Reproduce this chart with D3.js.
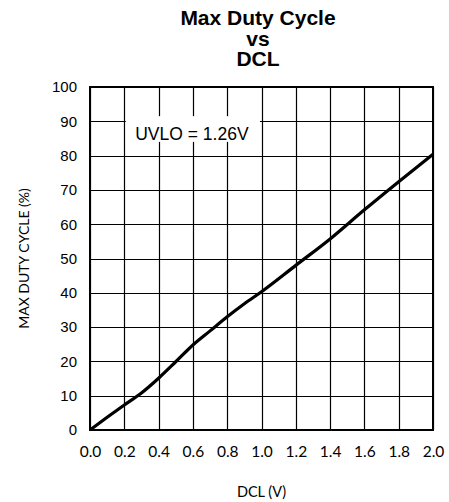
<!DOCTYPE html>
<html><head><meta charset="utf-8">
<script src="https://cdn.jsdelivr.net/npm/d3@7"></script>
<style>body{margin:0;background:#fff}svg{display:block}</style>
</head><body>
<svg id="c" width="449" height="502"></svg>
<script>
const dclV = [0, 0.1, 0.2, 0.3, 0.4, 0.5, 0.6, 0.7, 0.8, 0.9, 1.0, 1.2, 1.4, 1.6, 1.8, 2.0];
const dutyPct = [0, 3.7, 7.3, 10.8, 15.1, 19.9, 24.8, 28.9, 33.0, 36.8, 40.3, 48.0, 55.7, 64.2, 72.4, 80.4];
const xTicks = [0.0, 0.2, 0.4, 0.6, 0.8, 1.0, 1.2, 1.4, 1.6, 1.8, 2.0];
const yTicks = [0, 10, 20, 30, 40, 50, 60, 70, 80, 90, 100];
const titleLines = ["Max Duty Cycle", "vs", "DCL"];
const annotation = "UVLO = 1.26V";

const svg = d3.select("#c");
const L = 90, R = 433, T = 87, B = 430;
const x = d3.scaleLinear().domain([0, 2]).range([L, R]);
const y = d3.scaleLinear().domain([0, 100]).range([B, T]);

// grid
const g = svg.append("g");
g.selectAll("line.v").data(xTicks).join("line")
  .attr("x1", d => Math.round(x(d)) + 0.5).attr("x2", d => Math.round(x(d)) + 0.5)
  .attr("y1", T).attr("y2", B).attr("stroke", "#000").attr("stroke-width", 1.2);
g.selectAll("line.h").data(yTicks).join("line")
  .attr("y1", d => Math.round(y(d)) + 0.5).attr("y2", d => Math.round(y(d)) + 0.5)
  .attr("x1", L).attr("x2", R).attr("stroke", "#000").attr("stroke-width", 1.2);

// annotation box
const ab = svg.append("g");
ab.append("rect").attr("x", x(0.2) + 1.5).attr("y", y(91.5)).attr("width", x(1.0) - x(0.2) - 3).attr("height", y(84) - y(91.5)).attr("fill", "#fff");
ab.append("text").attr("x", x(0.6) - 1).attr("y", y(84.5)).attr("text-anchor", "middle")
  .attr("font-family", "Liberation Sans, Arial, sans-serif").attr("font-size", 17.5).text(annotation);

// frame
svg.append("rect").attr("x", L).attr("y", T).attr("width", R - L).attr("height", B - T)
  .attr("fill", "none").attr("stroke", "#000").attr("stroke-width", 2);

// data line
const pts = dclV.map((v, i) => [v, dutyPct[i]]);
svg.append("path").datum(pts)
  .attr("d", d3.line().x(d => x(d[0])).y(d => y(d[1])).curve(d3.curveMonotoneX))
  .attr("fill", "none").attr("stroke", "#000").attr("stroke-width", 3.2).attr("stroke-linejoin", "round");

// axes
const xAxis = d3.axisBottom(x).tickValues(xTicks).tickFormat(d3.format(".1f")).tickSize(0).tickPadding(16);
const xa = svg.append("g").attr("transform", `translate(0,${B})`).call(xAxis);
xa.select(".domain").remove();
xa.selectAll("text").attr("font-family", "Lato, sans-serif").attr("font-size", 15.5).attr("fill", "#000");

const yAxis = d3.axisLeft(y).tickValues(yTicks).tickSize(0).tickPadding(13);
const ya = svg.append("g").attr("transform", `translate(${L},0)`).call(yAxis);
ya.select(".domain").remove();
ya.selectAll("text").attr("font-family", "Liberation Sans, Arial, sans-serif").attr("font-size", 15).attr("fill", "#000");

// title
svg.append("g").selectAll("text").data(titleLines).join("text")
  .attr("x", 258).attr("y", (d, i) => 25 + i * 20.5).attr("text-anchor", "middle")
  .attr("font-family", "Liberation Sans, Arial, sans-serif").attr("font-weight", "bold").attr("font-size", 21)
  .text(d => d);

// axis titles
svg.append("text").attr("x", (L + R) / 2).attr("y", 497).attr("text-anchor", "middle")
  .attr("font-family", "Lato, sans-serif").attr("font-size", 14.5).text("DCL (V)");
svg.append("text").attr("transform", `translate(29,${(T + B) / 2}) rotate(-90)`).attr("text-anchor", "middle")
  .attr("font-family", "Lato, sans-serif").attr("font-size", 14).text("MAX DUTY CYCLE (%)");
</script>
</body></html>
